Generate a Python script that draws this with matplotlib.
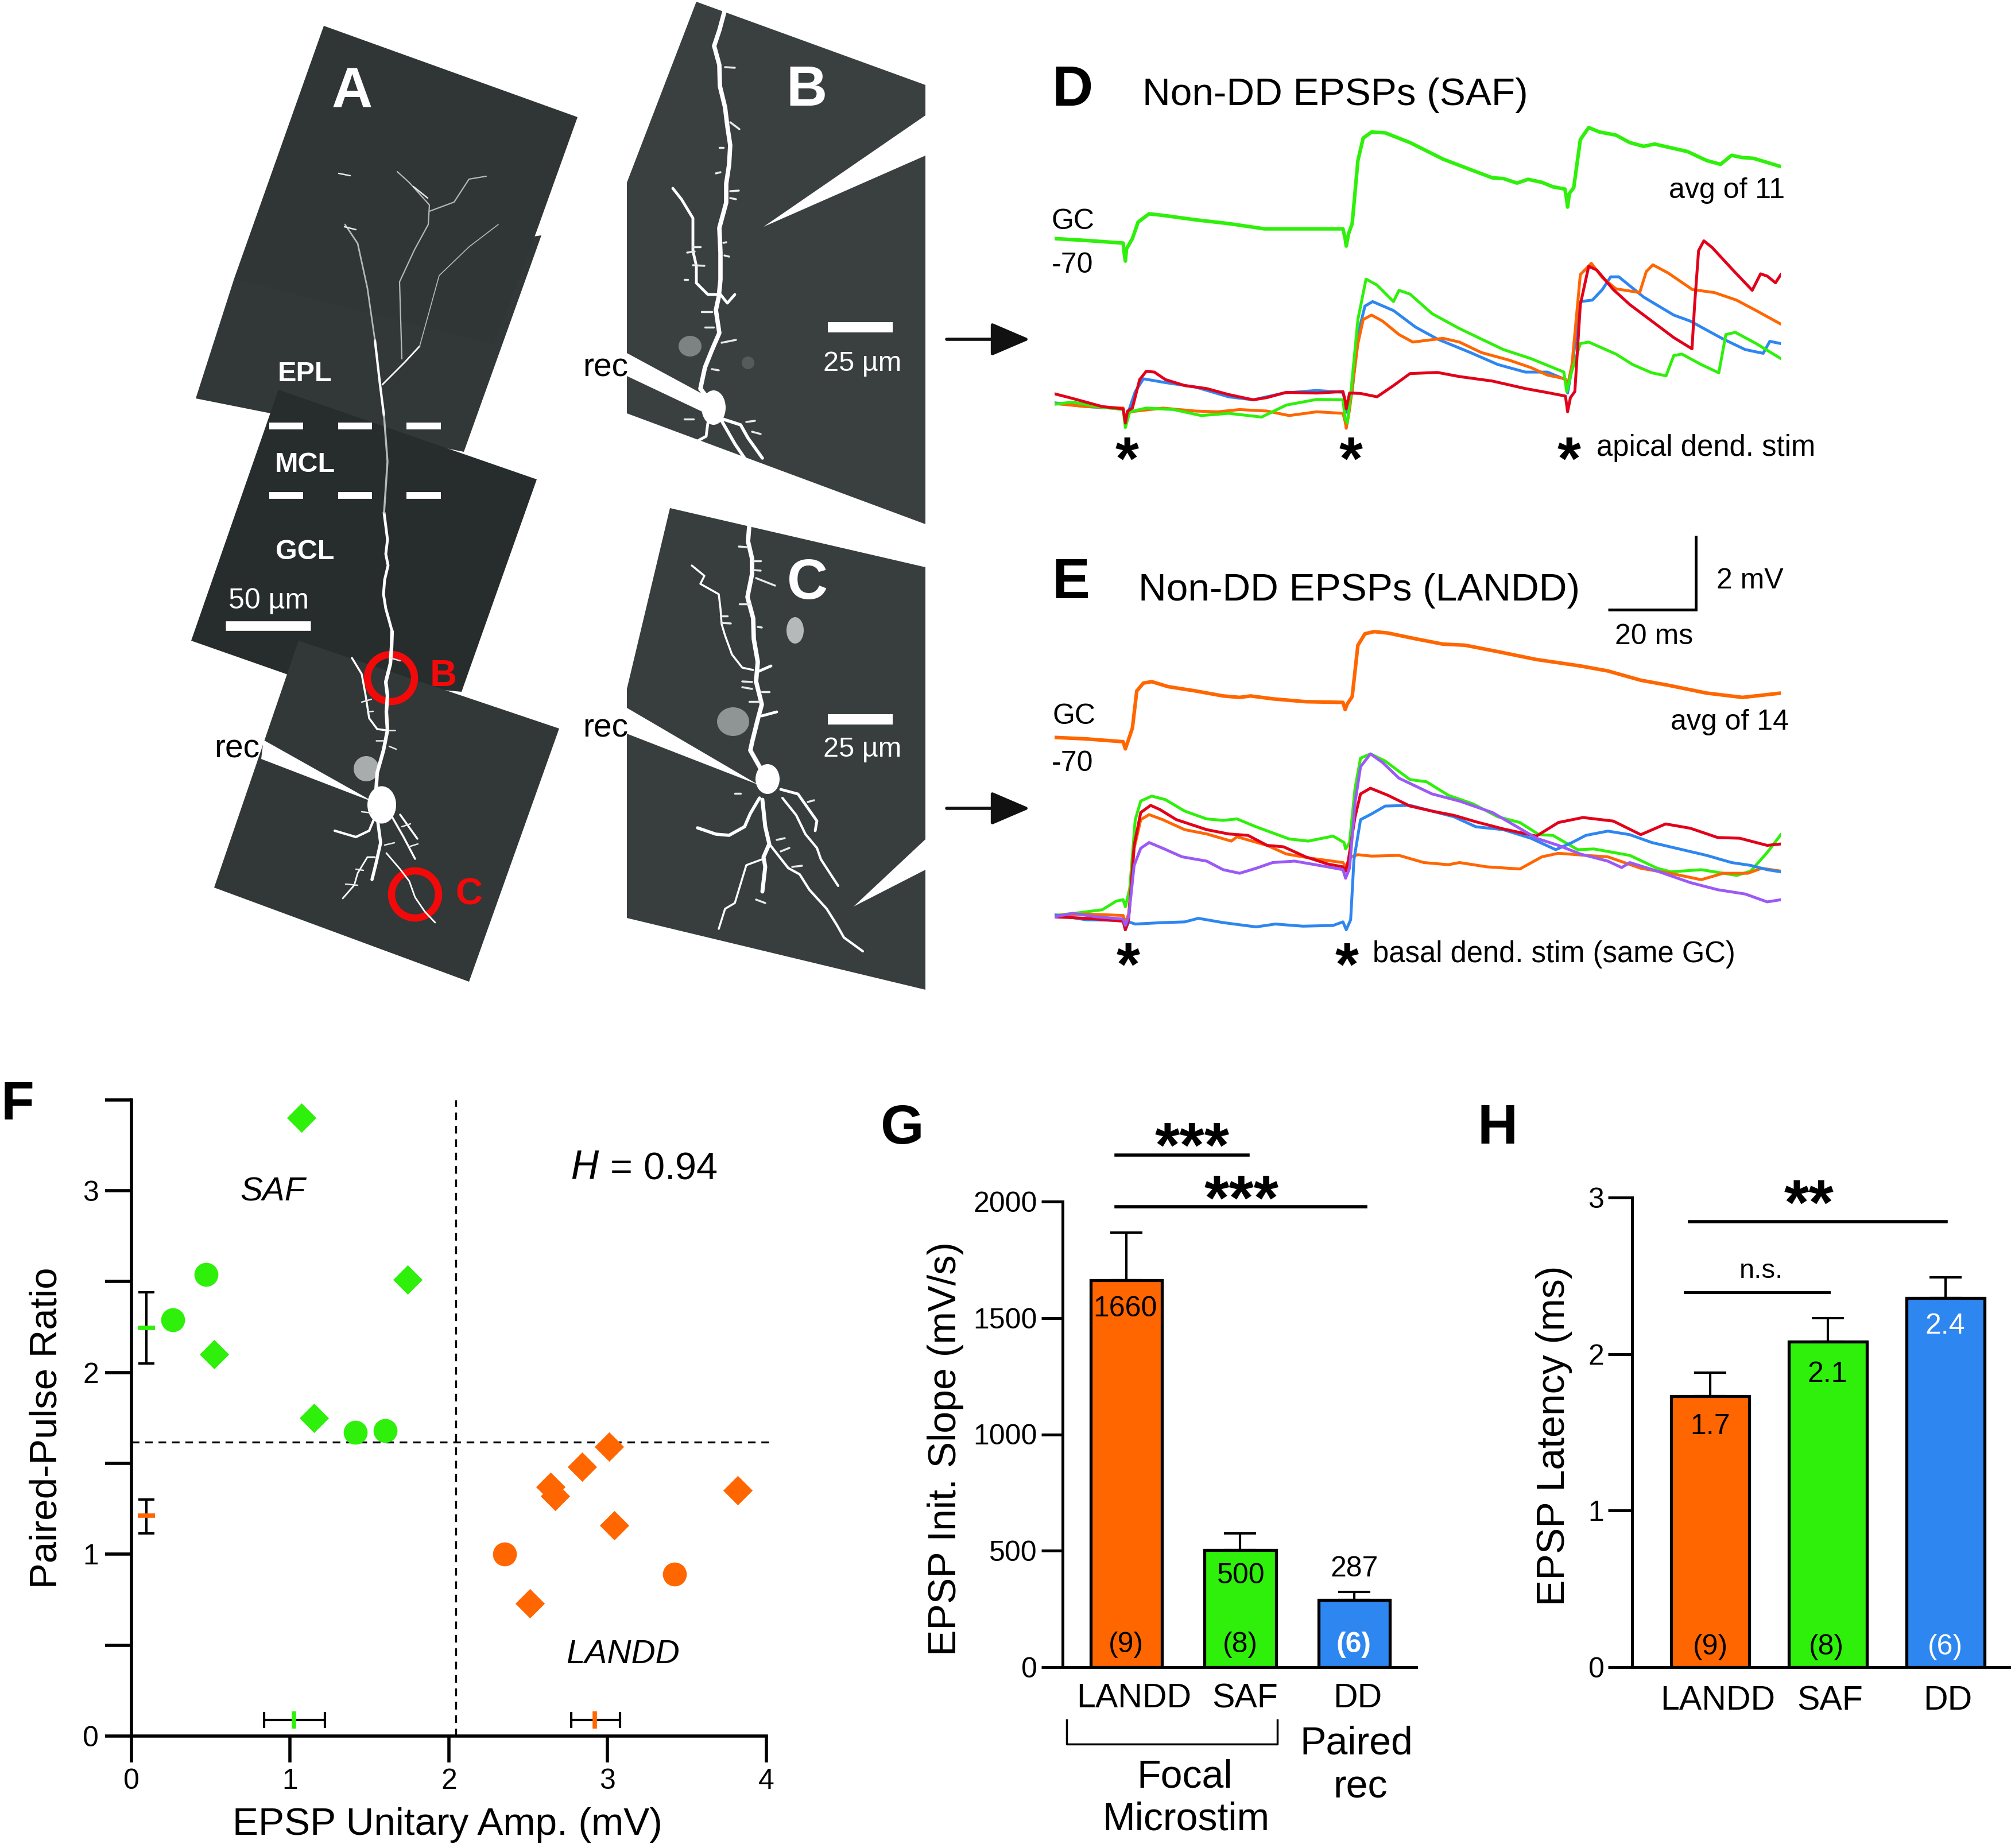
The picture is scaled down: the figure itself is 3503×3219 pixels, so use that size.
import matplotlib
matplotlib.use('Agg')
import matplotlib.pyplot as plt
from matplotlib.patches import Polygon, Circle, Ellipse

plt.rcParams['font.family'] = ['Liberation Sans', 'DejaVu Sans']

W, H = 3503, 3219

GREEN = '#2EF00A'
ORANGE = '#FF6600'
BLUE = '#2E86F0'
RED = '#E2001A'
PURPLE = '#9B59F5'
RING = '#F20A0A'

# Panel D traces, time in ms from first stim, voltage in mV
d_avg_t = [-16.1, -9, -0.5, -0.25, 0, 0.25, 1.6, 2.9, 5.4, 8.5, 16, 23.5, 31.6, 41, 49.5, 50, 50.25, 50.75, 51.6, 52.9, 54.1, 56, 59.1, 64.75, 72.25, 78.5, 83.5, 86, 89.1, 91.6, 94.75, 97.25, 100, 100.4, 100.6, 101, 102, 103.5, 105.4, 107.9, 111.6, 114.75, 117.9, 120.4, 127.9, 132.25, 135.4, 137.9, 140.4, 142.9, 149.1]
d_avg_v = [4.96, 4.91, 4.84, 4.56, 4.36, 4.68, 4.96, 5.40, 5.62, 5.58, 5.46, 5.36, 5.22, 5.22, 5.22, 4.96, 4.76, 5.08, 5.36, 7.04, 7.64, 7.80, 7.78, 7.52, 7.08, 6.80, 6.58, 6.56, 6.44, 6.54, 6.46, 6.34, 6.28, 6.00, 5.80, 6.16, 6.32, 7.60, 7.92, 7.80, 7.72, 7.52, 7.42, 7.48, 7.28, 7.04, 6.94, 7.18, 7.12, 7.10, 6.88]

d_blue_t = [-16.1, -9, -0.5, 0, 0.75, 2.25, 4.1, 9.1, 16, 23.5, 29.1, 36, 43.5, 49.5, 50, 50.5, 51.6, 52.9, 54.5, 56.25, 61, 66, 71, 78.5, 84.75, 91, 96, 100.1, 100.6, 101.6, 103.5, 106.25, 108.5, 110.4, 112.25, 117.9, 124.75, 128.5, 136, 141, 145.1, 146.6, 149.1]
d_blue_v = [0.58, 0.48, 0.42, 0.08, 0.36, 0.88, 1.22, 1.12, 1.00, 0.74, 0.66, 0.84, 0.91, 0.86, 0.60, 0.32, 0.88, 2.40, 3.16, 3.28, 3.04, 2.60, 2.28, 1.92, 1.60, 1.40, 1.40, 1.20, 0.84, 1.52, 3.28, 3.32, 3.60, 3.94, 3.94, 3.40, 2.92, 2.76, 2.28, 2.00, 1.90, 2.22, 2.16]

d_orange_t = [-16.1, -9, -0.5, 0, 1, 8.5, 16, 21, 26, 32.25, 37.25, 43.5, 49.5, 50, 50.25, 51, 52.9, 54.1, 56, 58.5, 62.25, 65.4, 72.25, 76, 81, 87.25, 92.25, 96, 100.1, 100.6, 101.6, 103.5, 106, 108.5, 111.6, 117, 118.5, 120, 123.5, 129, 134, 139, 143.5, 149.1]
d_orange_v = [0.56, 0.48, 0.44, 0.08, 0.34, 0.44, 0.36, 0.34, 0.40, 0.36, 0.24, 0.34, 0.30, 0.08, -0.10, 0.40, 2.16, 2.80, 2.92, 2.76, 2.40, 2.20, 2.30, 2.20, 1.92, 1.72, 1.52, 1.32, 1.22, 1.04, 1.60, 4.00, 4.30, 3.92, 3.62, 3.52, 4.08, 4.26, 4.04, 3.60, 3.52, 3.32, 3.04, 2.68]

d_green_t = [-16.1, -12, -6.5, -0.5, 0, 1, 4.75, 11, 17.25, 23.5, 31, 36.6, 43.5, 49.5, 50, 50.5, 51.25, 52.9, 54.75, 57.25, 61, 62.25, 64.75, 69.75, 76, 86, 92.25, 99.75, 100.4, 101.6, 103.5, 105.4, 111.6, 115.4, 119.75, 123, 124.75, 126.6, 131, 135, 136.6, 138.75, 143.5, 149.1]
d_green_v = [0.54, 0.60, 0.48, 0.40, -0.08, 0.34, 0.44, 0.40, 0.24, 0.30, 0.20, 0.52, 0.67, 0.66, 0.16, 0.04, 0.80, 2.80, 3.88, 3.72, 3.28, 3.58, 3.48, 2.96, 2.56, 2.00, 1.76, 1.40, 0.88, 1.44, 2.16, 2.20, 1.88, 1.60, 1.38, 1.30, 1.84, 1.88, 1.60, 1.38, 2.40, 2.46, 2.16, 1.76]

d_red_t = [-16.1, -12.75, -9, -5.25, -0.5, 0, 0.5, 1.6, 3.25, 4.75, 6.6, 9.1, 13.5, 18.5, 23.5, 29.1, 32.25, 36.6, 43.5, 49.5, 50, 50.25, 51, 53.5, 57.25, 61, 64.75, 71, 76, 83.5, 91, 96.6, 100.1, 100.4, 100.6, 101.25, 102.25, 103.5, 105.4, 107.25, 111, 114.75, 119.75, 124.75, 128.9, 129.5, 130.4, 131.6, 133.5, 137.9, 142.6, 144.5, 146, 147.9, 149.1]
d_red_v = [0.82, 0.72, 0.60, 0.48, 0.42, 0.04, 0.36, 0.44, 1.20, 1.42, 1.40, 1.20, 1.04, 0.96, 0.80, 0.66, 0.72, 0.86, 0.84, 0.88, 0.64, 0.42, 0.84, 0.83, 0.74, 1.04, 1.36, 1.39, 1.28, 1.16, 0.96, 0.84, 0.76, 0.52, 0.34, 0.72, 0.88, 3.20, 4.22, 4.12, 3.60, 3.20, 2.76, 2.32, 2.02, 3.20, 4.64, 4.90, 4.72, 4.16, 3.58, 4.02, 3.96, 3.78, 4.00]

# Panel E traces
e_avg_t = [-16.1, -9, -0.5, 0, 0.5, 1.6, 2.6, 4.1, 6, 9.75, 16, 22.25, 26, 28.5, 33.5, 41, 49.5, 50, 50.5, 51.6, 52.9, 54.5, 56.6, 59.75, 66, 72.25, 77.25, 84.75, 93.5, 103.5, 109.75, 117.25, 123.5, 132.25, 140.4, 144.75, 149.1]
e_avg_v = [5.02, 4.98, 4.90, 4.70, 4.88, 5.28, 6.32, 6.54, 6.58, 6.44, 6.32, 6.18, 6.14, 6.18, 6.10, 6.02, 6.00, 5.80, 5.96, 6.16, 7.60, 7.92, 7.98, 7.94, 7.78, 7.63, 7.60, 7.42, 7.20, 7.02, 6.88, 6.62, 6.48, 6.26, 6.14, 6.20, 6.26]

e_green_t = [-16.1, -10.25, -5.25, -2.1, -0.5, 0, 1, 2.25, 3.5, 6, 9.1, 13.5, 18.5, 22.25, 25.4, 29.75, 37.25, 41.6, 47.25, 49.75, 50.1, 51, 52.25, 53.5, 55.75, 59.1, 64.75, 68.5, 73.5, 79.1, 84.75, 89.75, 94.1, 97.25, 102.9, 106.6, 114.75, 121, 124.1, 131, 139.1, 142.25, 146, 149.1]
e_green_v = [0.04, 0.12, 0.20, 0.44, 0.48, 0.28, 0.80, 2.72, 3.24, 3.38, 3.28, 2.96, 2.74, 2.70, 2.74, 2.52, 2.18, 2.12, 2.26, 2.08, 1.90, 2.08, 3.60, 4.44, 4.56, 4.36, 3.84, 3.78, 3.40, 3.16, 2.80, 2.64, 2.30, 2.28, 1.88, 1.90, 1.72, 1.36, 1.26, 1.32, 1.16, 1.28, 1.80, 2.30]

e_orange_t = [-16.1, -9, -0.5, 0, 0.75, 2, 3.5, 5.4, 8.5, 13.5, 18.5, 24.1, 25.4, 32.25, 36.6, 42.25, 49.5, 50.4, 51.25, 52.9, 56, 62.25, 67.9, 73.5, 76, 82.25, 89.75, 94.75, 98.5, 104.75, 109.75, 117.25, 124.75, 131, 136, 141.6, 144.75, 149.1]
e_orange_v = [0.04, 0.08, 0.04, -0.16, 0.08, 1.92, 2.72, 2.86, 2.72, 2.44, 2.32, 2.12, 2.24, 2.00, 1.76, 1.64, 1.52, 1.36, 1.68, 1.74, 1.70, 1.72, 1.52, 1.46, 1.52, 1.40, 1.34, 1.68, 1.78, 1.72, 1.68, 1.36, 1.20, 1.04, 1.22, 1.22, 1.36, 1.28]

e_blue_t = [-16.1, -9, -0.5, 0, 0.75, 2.25, 8.5, 13.5, 16.6, 22.25, 29.75, 34.1, 40.4, 47.25, 49.5, 50.25, 51.25, 52, 53.5, 56, 59.1, 64.75, 69.75, 74.75, 79.75, 86, 92.25, 97.9, 101.6, 104.75, 109.75, 114.75, 119.75, 126, 132.25, 137.9, 142.25, 146, 149.1]
e_blue_v = [0.06, -0.08, -0.10, -0.36, -0.14, -0.20, -0.16, -0.14, -0.04, -0.16, -0.28, -0.20, -0.26, -0.24, -0.14, -0.36, -0.08, 1.60, 2.72, 2.88, 3.10, 3.12, 2.96, 2.80, 2.52, 2.44, 2.20, 1.88, 2.08, 2.28, 2.40, 2.30, 2.08, 1.90, 1.72, 1.52, 1.44, 1.32, 1.26]

e_red_t = [-16.1, -9, -0.5, 0, 0.75, 2, 3.5, 5.75, 7.9, 11.6, 18.5, 23.5, 27.9, 32.25, 36, 41, 46, 49.5, 50.1, 50.75, 52.25, 53.5, 55.75, 59.75, 64.75, 69.75, 74.75, 79.75, 86, 93.5, 98.5, 104.1, 111, 117.25, 122.9, 128.5, 134.75, 139.75, 146, 149.1]
e_red_v = [0, -0.04, -0.12, -0.36, -0.08, 2.00, 2.92, 3.12, 3.00, 2.72, 2.44, 2.32, 2.28, 2.00, 1.96, 1.68, 1.48, 1.40, 1.28, 1.60, 2.80, 3.44, 3.60, 3.40, 3.10, 2.96, 2.84, 2.66, 2.46, 2.26, 2.64, 2.78, 2.68, 2.30, 2.60, 2.48, 2.22, 2.20, 2.00, 2.04]

e_purple_t = [-16.1, -12, -6.5, -0.5, 0, 0.75, 2, 3.5, 5.4, 8.5, 12.9, 18.5, 22.25, 26, 29.75, 33.5, 38.5, 46, 49.5, 50.1, 51, 52.25, 53.5, 55.75, 58.5, 62.25, 69.75, 76, 83.5, 89.1, 93.5, 98.5, 103.5, 109.75, 112.9, 114.75, 121, 128.5, 134.75, 141, 146, 149.1]
e_purple_v = [0, 0.10, 0, -0.06, -0.24, 0, 1.44, 1.92, 2.08, 1.92, 1.68, 1.56, 1.32, 1.22, 1.36, 1.52, 1.56, 1.40, 1.32, 1.08, 1.36, 3.20, 4.20, 4.56, 4.32, 3.88, 3.44, 3.24, 2.92, 2.52, 2.20, 2.00, 1.76, 1.56, 1.38, 1.52, 1.28, 0.96, 0.76, 0.64, 0.42, 0.48]

# Panel F scatter
saf_diamond_x = [1.07, 1.74, 0.52, 1.15]
saf_diamond_y = [3.40, 2.51, 2.10, 1.75]
saf_circle_x = [0.47, 0.26, 1.41, 1.60]
saf_circle_y = [2.54, 2.29, 1.67, 1.68]
landd_diamond_x = [3.01, 2.84, 2.64, 2.67, 3.82, 3.04, 2.51]
landd_diamond_y = [1.59, 1.48, 1.37, 1.32, 1.35, 1.16, 0.73]
landd_circle_x = [2.35, 3.42]
landd_circle_y = [1.00, 0.89]

# mean, low, high
saf_ppr = [2.246, 2.05, 2.44]
landd_ppr = [1.213, 1.116, 1.30]
saf_amp = [1.024, 0.837, 1.218]
landd_amp = [2.92, 2.77, 3.076]

# Panels G and H
group_colors = [ORANGE, GREEN, BLUE]
slope_values = [1662, 502, 288]
slope_tops = [1866, 575, 323]
latency_values = [1.73, 2.08, 2.36]
latency_tops = [1.88, 2.23, 2.49]

# Panels A-C, image pixels: outlines of the micrograph tiles and dendrites
tile_top = [(564, 45), (1006, 204), (935, 402), (860, 600), (408, 485)]
tile_epl = [(408, 485), (943, 410), (808, 787), (341, 694)]
tile_mid = [(485, 679), (935, 835), (804, 1205), (507, 1177), (333, 1116)]
tile_low = [(520, 1116), (974, 1269), (817, 1710), (373, 1546)]
tile_b = [(1213, 3), (1612, 148), (1612, 913), (1092, 720), (1092, 318)]
tile_c = [(1167, 885), (1612, 988), (1612, 1724), (1092, 1599), (1092, 1200)]

a_bright = [
    ([683, 682, 680, 672, 675, 673, 675, 668, 657, 655, 665], [1100, 1128, 1156, 1188, 1212, 1240, 1272, 1307, 1346, 1377, 1405], 4.5),
    ([669, 675, 672, 676, 670, 668, 672, 679, 683], [893, 940, 965, 985, 1010, 1035, 1060, 1085, 1100], 3.5),
    ([613, 630, 637, 643, 657, 673], [1146, 1174, 1212, 1251, 1270, 1272], 2.5),
    ([653, 643, 620, 583], [1423, 1447, 1458, 1447], 3),
    ([657, 663, 655, 648], [1423, 1468, 1504, 1532], 4),
    ([673, 697, 713, 723, 740, 758], [1486, 1514, 1535, 1563, 1588, 1607], 2),
    ([683, 703, 723], [1423, 1458, 1496], 2.5),
    ([697, 727], [1419, 1461], 2.5),
    ([653, 640, 623, 617, 597], [1493, 1493, 1521, 1542, 1565], 2),
    ([669, 662, 653], [725, 670, 592], 3),
    ([666, 705, 731], [670, 631, 603], 2),
]
a_dim = [
    ([669, 675, 669], [893, 804, 725], 2.5),
    ([653, 640, 623, 601], [592, 502, 424, 391], 2),
    ([731, 765, 817, 868], [603, 480, 430, 391], 1.2),
    ([700, 696, 722, 746, 748, 713, 692], [625, 491, 435, 391, 357, 318, 299], 1.6),
    ([748, 791, 817, 847], [368, 352, 312, 307], 1.6),
]
a_twigs = [(680, 1146, 697, 1151), (630, 1223, 647, 1218), (640, 1240, 650, 1239), (677, 1272, 688, 1272),
           (630, 1414, 647, 1416), (602, 1540, 623, 1542), (620, 1514, 633, 1516), (670, 1472, 687, 1468),
           (655, 1290, 668, 1290), (678, 1300, 690, 1305), (700, 1440, 715, 1435), (712, 1475, 728, 1470),
           (590, 302, 610, 306), (720, 325, 745, 345), (600, 395, 620, 400)]
b_dend = [
    ([1262, 1253, 1244, 1253, 1254, 1263, 1267, 1272, 1270, 1265, 1265, 1253, 1255, 1255, 1252, 1247, 1253, 1240, 1228, 1220, 1243],
     [20, 53, 80, 113, 150, 187, 220, 253, 287, 320, 353, 397, 440, 487, 517, 540, 580, 610, 640, 677, 707], 5.5),
    ([1172, 1187, 1207, 1207, 1213, 1213, 1233, 1250], [328, 347, 380, 437, 463, 493, 513, 513], 3.5),
    ([1255, 1267, 1280], [513, 528, 513], 3.5),
    ([1250, 1290, 1303, 1328], [727, 740, 763, 798], 4),
    ([1257, 1280, 1297], [733, 773, 798], 4),
    ([1233, 1230, 1217], [737, 760, 767], 3.5),
]
b_twigs = [(1263, 117, 1280, 118), (1272, 213, 1288, 225), (1272, 333, 1287, 332), (1272, 345, 1282, 347),
           (1253, 257, 1260, 257), (1247, 302, 1255, 300), (1260, 423, 1265, 422), (1262, 445, 1270, 447),
           (1222, 543, 1240, 543), (1228, 570, 1243, 570), (1257, 597, 1282, 592), (1240, 643, 1252, 645),
           (1192, 730, 1208, 730), (1207, 430, 1220, 430), (1197, 440, 1210, 438), (1207, 462, 1227, 463),
           (1192, 487, 1198, 487), (1300, 735, 1315, 733), (1310, 752, 1325, 756)]
c_dend = [
    ([1305, 1303, 1310, 1310, 1302, 1312, 1313, 1320, 1317, 1327, 1320, 1310, 1307, 1337],
     [918, 943, 973, 1000, 1040, 1077, 1113, 1153, 1187, 1227, 1253, 1293, 1307, 1360], 5.5),
    ([1205, 1227, 1220, 1252, 1255, 1257, 1263, 1275, 1293, 1312], [985, 1003, 1017, 1035, 1060, 1087, 1107, 1140, 1163, 1167], 2.5),
    ([1320, 1343], [1170, 1160], 3.5),
    ([1327, 1353], [1247, 1240], 3.5),
    ([1323, 1307, 1297, 1270, 1247, 1215], [1390, 1417, 1440, 1455, 1453, 1442], 4),
    ([1328, 1333, 1340, 1330, 1333, 1328], [1393, 1440, 1470, 1493, 1510, 1553], 5),
    ([1340, 1373, 1393, 1410, 1440, 1457, 1470, 1503], [1470, 1512, 1523, 1550, 1583, 1610, 1633, 1657], 3),
    ([1363, 1387, 1403, 1423, 1430, 1460], [1390, 1420, 1453, 1477, 1497, 1543], 3),
    ([1360, 1390, 1423, 1420], [1375, 1383, 1430, 1447], 3.5),
    ([1327, 1300, 1290, 1280, 1263, 1252], [1497, 1507, 1540, 1573, 1583, 1618], 2.5),
]
c_twigs = [(1287, 952, 1300, 953), (1312, 977, 1325, 977), (1313, 993, 1325, 994), (1317, 1007, 1350, 1020),
           (1288, 1052, 1307, 1052), (1320, 1092, 1327, 1093), (1255, 1073, 1267, 1073), (1257, 1085, 1273, 1086),
           (1293, 1187, 1310, 1188), (1293, 1197, 1310, 1200), (1327, 1205, 1340, 1205), (1305, 1222, 1323, 1222),
           (1280, 1382, 1290, 1382), (1353, 1463, 1367, 1460), (1360, 1483, 1375, 1477), (1380, 1510, 1397, 1508),
           (1317, 1567, 1333, 1573), (1407, 1397, 1418, 1394)]
pipettes = [
    [(459, 1289), (455, 1322), (653, 1398)],
    [(1330, 395), (1612, 201), (1612, 271)],
    [(1092, 615), (1092, 655), (1240, 725), (1240, 695)],
    [(1092, 1233), (1092, 1278), (1321, 1367)],
    [(1487, 1579), (1612, 1462), (1612, 1515)],
]
somas = [(665, 1402, 50, 65), (1243, 710, 42, 60), (1337, 1357, 42, 52)]
glows = [(638, 1339, 44, 44, '#a8acac'), (1202, 603, 40, 36, '#7d8383'), (1303, 632, 22, 22, '#555b5b'),
         (1385, 1098, 30, 46, '#b5b9b9'), (1277, 1257, 56, 50, '#8f9595')]


def axes_px(fig, left, top, right, bottom):
    return fig.add_axes([left / W, 1 - bottom / H, (right - left) / W, (bottom - top) / H])


def draw_traces(ax, traces, lim):
    for t, v, c, lw in traces:
        ax.plot(t, v, color=c, lw=lw, solid_joinstyle='round')
    ax.set_xlim(-16.1, 149.1)
    ax.set_ylim(*lim)
    ax.axis('off')


def txt(ov, x, y, s, size, ha='center', va='center', **kw):
    ov.text(x, y, s, fontsize=size, ha=ha, va=va, **kw)


def bar_panel(ax, values, tops, width, xlim, ylim, yticks, ticklen):
    pos = list(range(len(values)))
    ax.bar(pos, values, width=width, color=group_colors, edgecolor='black', linewidth=3.8, zorder=3)
    for p, v, top in zip(pos, values, tops):
        ax.errorbar(p, v, yerr=[[0], [top - v]], color='black', lw=3, capsize=20, capthick=3, zorder=2)
    ax.set_xlim(*xlim)
    ax.set_ylim(*ylim)
    ax.set_xticks([])
    ax.set_yticks(yticks)
    ax.tick_params(axis='y', length=ticklen, width=3.6, labelsize=36, pad=5)
    ax.spines['top'].set_visible(False)
    ax.spines['right'].set_visible(False)
    ax.spines['left'].set_linewidth(3.6)
    ax.spines['bottom'].set_linewidth(3.6)


fig = plt.figure(figsize=(W / 100, H / 100), dpi=100)

# Overlay in image pixels for the micrographs and the free text
ov = fig.add_axes([0, 0, 1, 1], zorder=10)
ov.set_xlim(0, W)
ov.set_ylim(H, 0)
ov.axis('off')
ov.patch.set_alpha(0)

for pts, c in [(tile_epl, '#323737'), (tile_top, '#303535'), (tile_mid, '#272c2c'), (tile_low, '#323737'),
               (tile_b, '#3a4040'), (tile_c, '#383e3e')]:
    ov.add_patch(Polygon(pts, closed=True, color=c, lw=0))
for x, y, w, h, c in glows:
    ov.add_patch(Ellipse((x, y), w, h, color=c, lw=0))
for pts in pipettes:
    ov.add_patch(Polygon(pts, closed=True, color='white', lw=0))
for x, y, w, h in somas:
    ov.add_patch(Ellipse((x, y), w, h, color='white', lw=0))
for paths, c in [(a_bright, 'white'), (a_dim, '#b4b8b8'), (b_dend, 'white'), (c_dend, 'white')]:
    for xs, ys, lw in paths:
        ov.plot(xs, ys, color=c, lw=lw, solid_capstyle='round', solid_joinstyle='round')
for twigs, lw in [(a_twigs, 1.8), (b_twigs, 2.5), (c_twigs, 2.5)]:
    for x0, y0, x1, y1 in twigs:
        ov.plot([x0, x1], [y0, y1], color='#e8eaea', lw=lw, solid_capstyle='round')

# Layer dashes and scale bars
for y in [742, 863]:
    for x0, x1 in [(469, 528), (589, 648), (708, 768)]:
        ov.plot([x0, x1], [y, y], color='white', lw=8.5, solid_capstyle='butt')
ov.plot([393, 541], [1090, 1090], color='white', lw=12, solid_capstyle='butt')
ov.plot([1442, 1555], [570, 570], color='white', lw=13, solid_capstyle='butt')
ov.plot([1442, 1555], [1253, 1253], color='white', lw=13, solid_capstyle='butt')

for center in [(681, 1181), (723, 1558)]:
    ov.add_patch(Circle(center, 41, fill=False, edgecolor=RING, lw=9))

txt(ov, 613, 161, 'A', 71, color='white', fontweight='bold')
txt(ov, 1405, 159, 'B', 71, color='white', fontweight='bold')
txt(ov, 1407, 1017, 'C', 71, color='white', fontweight='bold')
txt(ov, 772, 1178, 'B', 47, color=RING, fontweight='bold')
txt(ov, 817, 1559, 'C', 47, color=RING, fontweight='bold')
txt(ov, 531, 651, 'EPL', 35, color='white', fontweight='bold')
txt(ov, 531, 809, 'MCL', 35, color='white', fontweight='bold')
txt(ov, 531, 962, 'GCL', 35, color='white', fontweight='bold')
txt(ov, 468, 1047, '50 µm', 36, color='white')
txt(ov, 1502, 633, '25 µm', 35, color='white')
txt(ov, 1502, 1306, '25 µm', 35, color='white')
txt(ov, 373, 1319, 'rec', 41, ha='left', va='baseline')
txt(ov, 1015, 656, 'rec', 41, ha='left', va='baseline')
txt(ov, 1015, 1283, 'rec', 41, ha='left', va='baseline')

# Arrows to the traces
for y in [591, 1408]:
    ov.annotate('', xy=(1794, y), xytext=(1649, y),
                arrowprops=dict(arrowstyle='-|>,head_length=4.2,head_width=1.8', color='#111111', lw=4,
                                shrinkA=0, shrinkB=0))

# Panel D
ax_d = axes_px(fig, 1837, 217, 3102, 750)
draw_traces(ax_d, [(d_avg_t, d_avg_v, GREEN, 4.5), (d_blue_t, d_blue_v, BLUE, 3.6), (d_orange_t, d_orange_v, ORANGE, 3.6),
                   (d_green_t, d_green_v, GREEN, 3.6), (d_red_t, d_red_v, RED, 3.6)], (-0.16, 8.0))
txt(ov, 1832, 158, 'D', 71, ha='left', fontweight='bold')
txt(ov, 1990, 183, 'Non-DD EPSPs (SAF)', 48.6, ha='left', va='baseline')
txt(ov, 3109, 345, 'avg of 11', 36, ha='right', va='baseline')
txt(ov, 1832, 399, 'GC', 36, ha='left', va='baseline')
txt(ov, 1832, 475, '-70', 36, ha='left', va='baseline')
for x in [1963, 2353, 2733]:
    txt(ov, x, 807, '*', 76, fontweight='bold')
txt(ov, 2781, 794, 'apical dend. stim', 36.6, ha='left', va='baseline')

# Panel E
ax_e = axes_px(fig, 1837, 1089, 3102, 1627)
draw_traces(ax_e, [(e_avg_t, e_avg_v, ORANGE, 4.5), (e_green_t, e_green_v, GREEN, 3.6), (e_orange_t, e_orange_v, ORANGE, 3.6),
                   (e_blue_t, e_blue_v, BLUE, 3.6), (e_red_t, e_red_v, RED, 3.6), (e_purple_t, e_purple_v, PURPLE, 3.6)],
            (-0.48, 8.16))
ax_e.plot([109.75, 129.75, 129.75], [8.6, 8.6, 10.66], color='black', lw=3.5, clip_on=False,
          solid_joinstyle='miter', solid_capstyle='butt')
txt(ov, 1832, 1016, 'E', 71, ha='left', fontweight='bold')
txt(ov, 1983, 1046, 'Non-DD EPSPs (LANDD)', 48.6, ha='left', va='baseline')
txt(ov, 2990, 1025, '2 mV', 36, ha='left', va='baseline')
txt(ov, 2813, 1122, '20 ms', 36, ha='left', va='baseline')
txt(ov, 3116, 1271, 'avg of 14', 36, ha='right', va='baseline')
txt(ov, 1834, 1261, 'GC', 36, ha='left', va='baseline')
txt(ov, 1832, 1343, '-70', 36, ha='left', va='baseline')
for x in [1965, 2346]:
    txt(ov, x, 1688, '*', 76, fontweight='bold')
txt(ov, 2391, 1676, 'basal dend. stim (same GC)', 36.5, ha='left', va='baseline')

# Panel F
ax_f = axes_px(fig, 229, 1915.5, 1335, 3024)
ax_f.plot([2.045, 2.045], [0, 3.5], color='black', lw=2.4, ls=(0, (4, 3)), zorder=1)
ax_f.plot([0, 4.05], [1.616, 1.616], color='black', lw=2.4, ls=(0, (4, 3)), clip_on=False, zorder=1)
ax_f.scatter(saf_diamond_x, saf_diamond_y, marker='D', s=680, color=GREEN, lw=0, zorder=3, clip_on=False)
ax_f.scatter(saf_circle_x, saf_circle_y, marker='o', s=900, color=GREEN, lw=0, zorder=3, clip_on=False)
ax_f.scatter(landd_diamond_x, landd_diamond_y, marker='D', s=680, color=ORANGE, lw=0, zorder=3, clip_on=False)
ax_f.scatter(landd_circle_x, landd_circle_y, marker='o', s=900, color=ORANGE, lw=0, zorder=3, clip_on=False)
for (m, lo, hi), c in [(saf_ppr, GREEN), (landd_ppr, ORANGE)]:
    ax_f.errorbar(0.094, m, yerr=[[m - lo], [hi - m]], color='black', lw=3, capsize=10, capthick=3, zorder=2)
    ax_f.plot(0.094, m, marker='_', ms=21, mew=5.5, color=c, zorder=4)
for (m, lo, hi), c in [(saf_amp, GREEN), (landd_amp, ORANGE)]:
    ax_f.errorbar(m, 0.088, xerr=[[m - lo], [hi - m]], color='black', lw=3, capsize=10, capthick=3, zorder=2)
    ax_f.plot(m, 0.088, marker='|', ms=21, mew=5.5, color=c, zorder=4)
ax_f.set_xlim(0, 4)
ax_f.set_ylim(0, 3.5)
ax_f.set_xticks([0, 1, 2, 3, 4])
ax_f.set_yticks([0, 1, 2, 3])
ax_f.set_yticks([0.5, 1.5, 2.5, 3.5], minor=True)
ax_f.tick_params(axis='both', which='both', length=33, width=4, labelsize=36)
ax_f.tick_params(axis='x', pad=7)
ax_f.tick_params(axis='y', pad=8)
ax_f.spines['top'].set_visible(False)
ax_f.spines['right'].set_visible(False)
ax_f.spines['left'].set_linewidth(4)
ax_f.spines['bottom'].set_linewidth(4)
txt(ov, 2, 1926, 'F', 68, ha='left', fontweight='bold')
txt(ov, 475, 2077, 'SAF', 42, style='italic')
txt(ov, 1085, 2882, 'LANDD', 42, style='italic')
ov.text(994, 2037, r'$\mathit{H}$ = 0.94', fontsize=48, ha='left', va='center', math_fontfamily='custom')
txt(ov, 779, 3179, 'EPSP Unitary Amp. (mV)', 48.6)
txt(ov, 82, 2487, 'Paired-Pulse Ratio', 48.3, rotation=90)

# Panel G
ax_g = axes_px(fig, 1851, 2093, 2467, 2904)
bar_panel(ax_g, slope_values, slope_tops, 0.625, (-0.559, 2.544), (0, 2000), [0, 500, 1000, 1500, 2000], 27)
txt(ov, 1534, 1967, 'G', 70, ha='left', fontweight='bold')
txt(ov, 1647, 2524, 'EPSP Init. Slope (mV/s)', 49, rotation=90)
txt(ov, 1960, 2280, '1660', 36)
txt(ov, 2162, 2745, '500', 36)
txt(ov, 2359, 2733, '287', 36)
txt(ov, 1961, 2865, '(9)', 36)
txt(ov, 2160, 2865, '(8)', 36)
txt(ov, 2358, 2865, '(6)', 36, color='white', fontweight='bold')
txt(ov, 1975, 2959, 'LANDD', 42.5)
txt(ov, 2169, 2959, 'SAF', 42.5)
txt(ov, 2365, 2959, 'DD', 42.5)
ov.plot([1858, 1858, 2225, 2225], [2996, 3038, 3038, 2996], color='black', lw=2.5)
txt(ov, 2064, 3096, 'Focal', 49)
txt(ov, 2066, 3170, 'Microstim', 49)
txt(ov, 2363, 3037, 'Paired', 49)
txt(ov, 2370, 3113, 'rec', 49)
ov.plot([1944, 2174], [2012, 2012], color='black', lw=4)
ov.plot([1944, 2379], [2102, 2102], color='black', lw=4)
txt(ov, 2077, 2004, '***', 80, fontweight='bold')
txt(ov, 2163, 2096, '***', 80, fontweight='bold')

# Panel H
ax_h = axes_px(fig, 2843, 2086, 3503, 2904)
bar_panel(ax_h, latency_values, latency_tops, 0.66, (-0.663, 2.556), (0, 3), [0, 1, 2, 3], 30)
txt(ov, 2573, 1967, 'H', 70, ha='left', fontweight='bold')
txt(ov, 2707, 2501, 'EPSP Latency (ms)', 49, rotation=90)
txt(ov, 2979, 2485, '1.7', 36)
txt(ov, 3183, 2394, '2.1', 36)
txt(ov, 3388, 2310, '2.4', 36, color='white')
txt(ov, 2979, 2869, '(9)', 36)
txt(ov, 3181, 2869, '(8)', 36)
txt(ov, 3388, 2869, '(6)', 36, color='white')
txt(ov, 2992, 2963, 'LANDD', 42.5)
txt(ov, 3188, 2963, 'SAF', 42.5)
txt(ov, 3393, 2963, 'DD', 42.5)
ov.plot([2943, 3390], [2128, 2128], color='black', lw=4)
ov.plot([2935, 3186], [2251, 2251], color='black', lw=3.5)
txt(ov, 3151, 2104, '**', 80, fontweight='bold')
txt(ov, 3068, 2214, 'n.s.', 34)

fig.savefig('out.png', dpi=100)
